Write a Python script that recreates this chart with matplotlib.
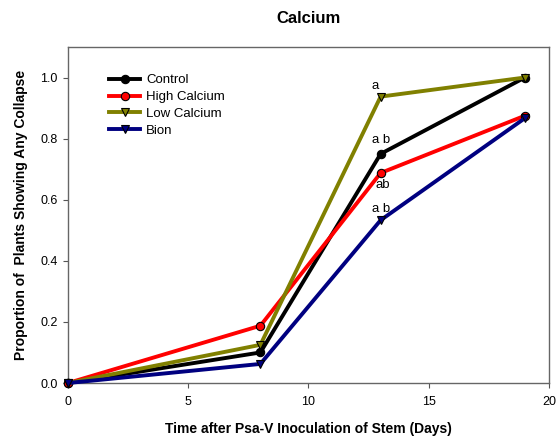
"""Calcium treatment: proportion of plants showing collapse over time."""

import matplotlib
matplotlib.use('Agg')
import matplotlib.pyplot as plt

days = [0, 8, 13, 19]
control = [0.0, 0.10, 0.75, 1.0]
high_calcium = [0.0, 0.1875, 0.6875, 0.875]
low_calcium = [0.0, 0.125, 0.9375, 1.0]
bion = [0.0, 0.0625, 0.533, 0.867]

series = [
    ('Control', control, 'black', 'o', 'black'),
    ('High Calcium', high_calcium, 'red', 'o', 'red'),
    ('Low Calcium', low_calcium, '#808000', 'v', '#808000'),
    ('Bion', bion, '#000080', 'v', '#000080'),
]

# significance letters at day 13 (label, anchor value, offset in y, offset in x)
letters = [('a', low_calcium[2], 0.035, -0.25), ('a b', control[2], 0.045, 0.0),
           ('ab', high_calcium[2], -0.04, 0.1), ('a b', bion[2], 0.035, 0.0)]

plt.rcParams['font.family'] = ['Liberation Sans', 'DejaVu Sans']

fig = plt.figure(figsize=(5.57, 4.43), dpi=100)
ax = fig.add_axes([0.1221, 0.1354, 0.8635, 0.7586])

for name, vals, color, marker, face in series:
    ax.plot(days, vals, color=color, linewidth=2.8, marker=marker, markersize=6,
            markerfacecolor=face, markeredgecolor='black', markeredgewidth=0.8,
            label=name, clip_on=False, zorder=3)

for txt, y, off, xoff in letters:
    ax.text(13 + xoff, y + off, txt, ha='center', va='center', fontsize=9.5)

ax.set_xlim(0, 20)
ax.set_ylim(0, 1.1)
ax.set_xticks([0, 5, 10, 15, 20])
ax.set_yticks([0.0, 0.2, 0.4, 0.6, 0.8, 1.0])
ax.set_yticklabels(['0.0', '0.2', '0.4', '0.6', '0.8', '1.0'])
ax.tick_params(direction='out', length=3.6, width=0.8, color='#555555', labelsize=9)
ax.tick_params(axis='x', pad=6)
ax.tick_params(axis='y', pad=4)
for sp in ax.spines.values():
    sp.set_color('#666666')
    sp.set_linewidth(1.0)

ax.set_xlabel('Time after Psa-V Inoculation of Stem (Days)', fontsize=10, fontweight='bold', labelpad=10)
ax.set_ylabel('Proportion of  Plants Showing Any Collapse', fontsize=10, fontweight='bold', labelpad=9)
fig.text(0.554, 0.959, 'Calcium', ha='center', va='center', fontsize=12, fontweight='bold')

ax.legend(loc='upper left', bbox_to_anchor=(0.075, 0.935), frameon=False, fontsize=9.5,
          handlelength=2.3, handletextpad=0.5, labelspacing=0.35, borderaxespad=0)

fig.savefig('out.png', dpi=100)
plt.close(fig)
